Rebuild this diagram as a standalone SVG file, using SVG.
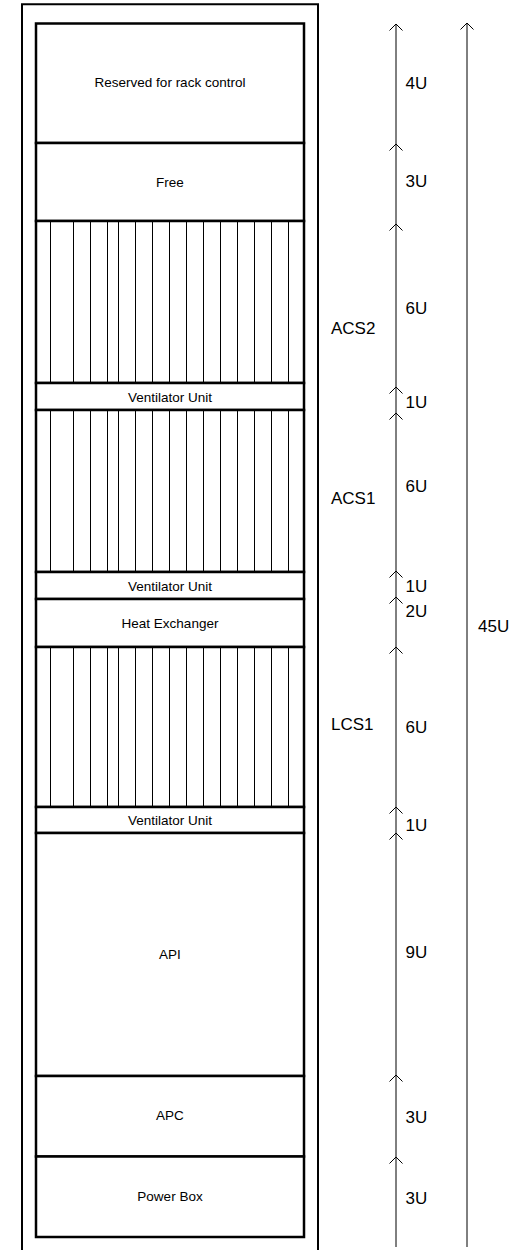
<svg xmlns="http://www.w3.org/2000/svg" width="518" height="1250" viewBox="0 0 518 1250">
<defs>
<style>
.frame{fill:none;stroke:#000;stroke-width:2}
.box{fill:#fff;stroke:#000;stroke-width:2.5}
.slot{fill:none;stroke:#000;stroke-width:1}
.lbl{font-family:"Liberation Sans",Arial,sans-serif;font-size:13.5px;fill:#000;text-anchor:middle}
.side{font-family:"Liberation Sans",Arial,sans-serif;font-size:17px;fill:#000}
.dim{stroke:#000;stroke-width:1;fill:none;marker-end:url(#arr)}
</style>
<marker id="arr" markerUnits="userSpaceOnUse" markerWidth="14" markerHeight="14" refX="0" refY="0" orient="auto" overflow="visible">
<path d="M-6.5,-6.5 L0,0 L-6.5,6.5" fill="none" stroke="#000" stroke-width="1"/>
</marker>
</defs>
<rect width="518" height="1250" fill="#fff"/>
<g id="rack-frame">
<path class="frame" d="M22,1250 V4.3 H318 V1250"/>
</g>
<g id="reserved">
<rect class="box" x="36" y="23.5" width="268" height="119.5"/>
<text class="lbl" x="170" y="86.5">Reserved for rack control</text>
</g>
<g id="free">
<rect class="box" x="36" y="143" width="268" height="78"/>
<text class="lbl" x="170" y="186.5">Free</text>
</g>
<g id="acs2">
<rect class="box" x="36" y="221" width="268" height="162"/>
<path class="slot" d="M50.5,221V383M73.5,221V383M90.5,221V383M107.5,221V383M118.5,221V383M135.5,221V383M152.5,221V383M169.5,221V383M186.5,221V383M203.5,221V383M220.5,221V383M237.5,221V383M254.5,221V383M271.5,221V383M288.5,221V383"/>
</g>
<g id="vent-acs2">
<rect class="box" x="36" y="383" width="268" height="27"/>
<text class="lbl" x="170" y="401.5">Ventilator Unit</text>
</g>
<g id="acs1">
<rect class="box" x="36" y="410" width="268" height="162"/>
<path class="slot" d="M50.5,410V572M73.5,410V572M90.5,410V572M107.5,410V572M118.5,410V572M135.5,410V572M152.5,410V572M169.5,410V572M186.5,410V572M203.5,410V572M220.5,410V572M237.5,410V572M254.5,410V572M271.5,410V572M288.5,410V572"/>
</g>
<g id="vent-acs1">
<rect class="box" x="36" y="572" width="268" height="27"/>
<text class="lbl" x="170" y="590.5">Ventilator Unit</text>
</g>
<g id="heat-exchanger">
<rect class="box" x="36" y="599" width="268" height="48"/>
<text class="lbl" x="170" y="628">Heat Exchanger</text>
</g>
<g id="lcs1">
<rect class="box" x="36" y="647" width="268" height="160"/>
<path class="slot" d="M50.5,647V807M73.5,647V807M90.5,647V807M107.5,647V807M118.5,647V807M135.5,647V807M152.5,647V807M169.5,647V807M186.5,647V807M203.5,647V807M220.5,647V807M237.5,647V807M254.5,647V807M271.5,647V807M288.5,647V807"/>
</g>
<g id="vent-lcs1">
<rect class="box" x="36" y="807" width="268" height="26"/>
<text class="lbl" x="170" y="825">Ventilator Unit</text>
</g>
<g id="api">
<rect class="box" x="36" y="833" width="268" height="243"/>
<text class="lbl" x="170" y="959">API</text>
</g>
<g id="apc">
<rect class="box" x="36" y="1076" width="268" height="80.5"/>
<text class="lbl" x="170" y="1120">APC</text>
</g>
<g id="power-box">
<rect class="box" x="36" y="1156.5" width="268" height="80.5"/>
<text class="lbl" x="170" y="1200.5">Power Box</text>
</g>
<g id="side-labels">
<text class="side" x="331" y="334">ACS2</text>
<text class="side" x="331" y="504">ACS1</text>
<text class="side" x="331" y="730">LCS1</text>
</g>
<g id="connectors">
<line class="dim" x1="396" y1="144" x2="396" y2="24"/>
<line class="dim" x1="396" y1="224" x2="396" y2="144"/>
<line class="dim" x1="396" y1="387" x2="396" y2="224"/>
<line class="dim" x1="396" y1="413" x2="396" y2="387"/>
<line class="dim" x1="396" y1="571" x2="396" y2="413"/>
<line class="dim" x1="396" y1="597" x2="396" y2="571"/>
<line class="dim" x1="396" y1="647" x2="396" y2="597"/>
<line class="dim" x1="396" y1="807" x2="396" y2="647"/>
<line class="dim" x1="396" y1="833" x2="396" y2="807"/>
<line class="dim" x1="396" y1="1075" x2="396" y2="833"/>
<line class="dim" x1="396" y1="1157" x2="396" y2="1075"/>
<line class="dim" x1="396" y1="1247" x2="396" y2="1157"/>
<line class="dim" x1="467" y1="1247" x2="467" y2="23"/>
</g>
<g id="dimension-labels">
<text class="side" x="405.5" y="89">4U</text>
<text class="side" x="405.5" y="187">3U</text>
<text class="side" x="405.5" y="314">6U</text>
<text class="side" x="405.5" y="408">1U</text>
<text class="side" x="405.5" y="492">6U</text>
<text class="side" x="405.5" y="592">1U</text>
<text class="side" x="405.5" y="617">2U</text>
<text class="side" x="405.5" y="733">6U</text>
<text class="side" x="405.5" y="831">1U</text>
<text class="side" x="405.5" y="958">9U</text>
<text class="side" x="405.5" y="1123">3U</text>
<text class="side" x="405.5" y="1204">3U</text>
<text class="side" x="478" y="632">45U</text>
</g>
</svg>
